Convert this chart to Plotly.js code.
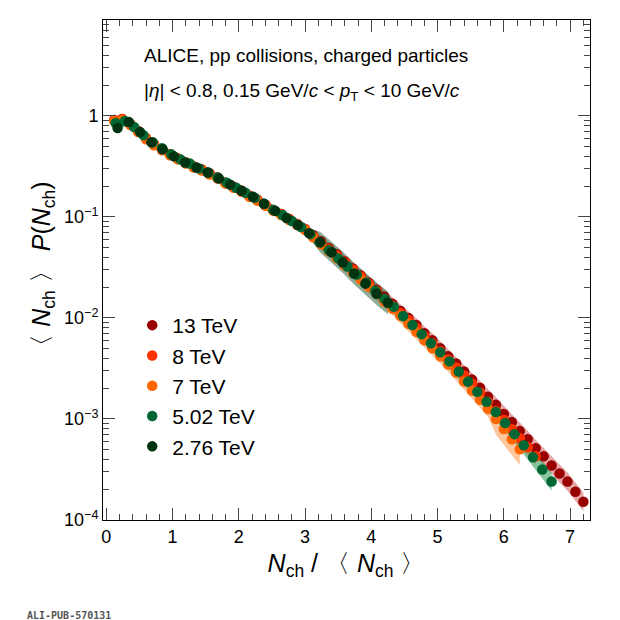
<!DOCTYPE html><html><head><script src="https://cdn.plot.ly/plotly-3.0.1.min.js"></script>
<style>body{margin:0}</style></head><body><div id="c" style="width:620px;height:620px"></div><script>
const labels=["13 TeV","8 TeV","7 TeV","5.02 TeV","2.76 TeV"];
const colors=["#990000","#ff3300","#ff6600","#006633","#003311"];
const bandColors=["rgba(200,60,60,0.45)","rgba(255,90,40,0.45)","rgba(255,140,60,0.5)","rgba(40,150,80,0.55)","rgba(30,90,50,0.5)"];
const steps=[0.12,0.12,0.12,0.14,0.17];
const log13=[-0.04,-0.03,-0.08,-0.15,-0.22,-0.28,-0.33,-0.38,-0.42,-0.46,-0.50,-0.53,-0.57,-0.61,-0.66,-0.70,-0.74,-0.79,-0.83,-0.88,-0.93,-0.97,-1.02,-1.07,-1.12,-1.18,-1.24,-1.31,-1.37,-1.44,-1.51,-1.58,-1.65,-1.72,-1.79,-1.86,-1.93,-2.00,-2.07,-2.15,-2.22,-2.30,-2.38,-2.45,-2.53,-2.61,-2.69,-2.78,-2.86,-2.95,-3.03,-3.12,-3.20,-3.29,-3.37,-3.46,-3.54,-3.62,-3.72,-3.82];
const log8=[-0.04,-0.03,-0.08,-0.15,-0.22,-0.28,-0.33,-0.38,-0.42,-0.46,-0.50,-0.53,-0.57,-0.61,-0.66,-0.70,-0.74,-0.79,-0.83,-0.88,-0.93,-0.97,-1.02,-1.07,-1.12,-1.19,-1.25,-1.32,-1.38,-1.45,-1.52,-1.59,-1.66,-1.73,-1.81,-1.88,-1.95,-2.02,-2.10,-2.18,-2.25,-2.33,-2.41,-2.49,-2.57,-2.65,-2.74,-2.83,-2.92,-3.01,-3.10,-3.19,-3.28,-3.37];
const log7=[-0.05,-0.04,-0.09,-0.16,-0.23,-0.29,-0.34,-0.39,-0.43,-0.47,-0.51,-0.54,-0.58,-0.62,-0.67,-0.71,-0.75,-0.80,-0.84,-0.89,-0.94,-0.98,-1.03,-1.08,-1.13,-1.20,-1.27,-1.34,-1.41,-1.48,-1.55,-1.62,-1.69,-1.76,-1.84,-1.91,-1.98,-2.06,-2.14,-2.22,-2.30,-2.38,-2.46,-2.54,-2.63,-2.72,-2.81,-2.90,-3.00,-3.10,-3.20,-3.30];
const log502=[-0.07,-0.05,-0.11,-0.19,-0.26,-0.32,-0.38,-0.43,-0.47,-0.52,-0.56,-0.61,-0.66,-0.71,-0.76,-0.81,-0.87,-0.93,-0.98,-1.04,-1.10,-1.17,-1.25,-1.33,-1.41,-1.49,-1.57,-1.65,-1.73,-1.81,-1.89,-1.98,-2.07,-2.16,-2.25,-2.34,-2.43,-2.53,-2.63,-2.73,-2.83,-2.93,-3.04,-3.15,-3.26,-3.38,-3.50,-3.62];
const log276=[-0.12,-0.06,-0.16,-0.26,-0.33,-0.40,-0.46,-0.51,-0.56,-0.62,-0.68,-0.74,-0.80,-0.87,-0.94,-1.01,-1.08,-1.16,-1.25,-1.35,-1.45,-1.56,-1.66,-1.76,-1.85];
const series=[log13,log8,log7,log502,log276];
const traces=[];
series.forEach((lg,i)=>{
  const x=lg.map((_,k)=>+(steps[i]*(k+1)).toFixed(3));
  const y=lg.map(v=>Math.pow(10,v));
  const w=x.map(v=>0.04+0.02*v+(i==4&&v>3.2?0.1:0)+(i==2&&v>5.8?0.15:0));
  const up=y.map((v,k)=>v*Math.pow(10,w[k]*0.5)), lo=y.map((v,k)=>v*Math.pow(10,-w[k]*0.5));
  traces.push({x:x.concat(x.slice().reverse()),y:up.concat(lo.slice().reverse()),fill:'toself',fillcolor:bandColors[i],line:{width:0},mode:'lines',showlegend:false,hoverinfo:'skip'});
});
series.forEach((lg,i)=>{
  const x=lg.map((_,k)=>+(steps[i]*(k+1)).toFixed(3));
  traces.push({x:x,y:lg.map(v=>Math.pow(10,v)),mode:'markers',name:labels[i],marker:{color:colors[i],size:10.5},error_y:{type:'percent',value:3,color:colors[i],width:0}});
});
const f="Liberation Sans, Arial, sans-serif";
Plotly.newPlot('c',traces,{
  width:620,height:620,margin:{l:103,r:30,t:20,b:100},paper_bgcolor:'white',plot_bgcolor:'white',
  font:{family:f,size:18,color:'black'},
  xaxis:{range:[-0.05,7.3],ticks:'inside',ticklen:12,mirror:'ticks',showline:true,linecolor:'black',showgrid:false,zeroline:false,dtick:1,tick0:0,minor:{ticks:'inside',ticklen:6,dtick:0.2},tickfont:{size:18},
    title:{text:'<i>N</i><sub>ch</sub> / 〈 <i>N</i><sub>ch</sub> 〉',font:{size:25},standoff:8}},
  yaxis:{type:'log',range:[-4,0.95],ticks:'inside',ticklen:12,mirror:'ticks',showline:true,linecolor:'black',showgrid:false,zeroline:false,
    tickvals:[1e-4,1e-3,1e-2,1e-1,1],ticktext:['10<sup>−4</sup>','10<sup>−3</sup>','10<sup>−2</sup>','10<sup>−1</sup>','1'],minor:{ticks:'inside',ticklen:6,dtick:'D1'},tickfont:{size:18},
    title:{text:'〈 <i>N</i><sub>ch</sub> 〉 <i>P</i>(<i>N</i><sub>ch</sub>)',font:{size:25},standoff:6}},
  legend:{x:0.06,y:0.43,xanchor:'left',yanchor:'top',font:{size:21},bgcolor:'rgba(0,0,0,0)',itemwidth:30},
  annotations:[
    {xref:'paper',yref:'paper',x:0.08,y:0.955,xanchor:'left',showarrow:false,text:'ALICE, pp collisions, charged particles',font:{size:19}},
    {xref:'paper',yref:'paper',x:0.08,y:0.885,xanchor:'left',showarrow:false,text:'|<i>η</i>| < 0.8, 0.15 GeV/<i>c</i> < <i>p</i><sub>T</sub> < 10 GeV/<i>c</i>',font:{size:19}},
    {xref:'paper',yref:'paper',x:-0.16,y:-0.205,xanchor:'left',showarrow:false,text:'<b>ALI-PUB-570131</b>',font:{family:'DejaVu Sans Mono, monospace',size:10,color:'#555'}}
  ]
},{displayModeBar:false});
</script></body></html>
